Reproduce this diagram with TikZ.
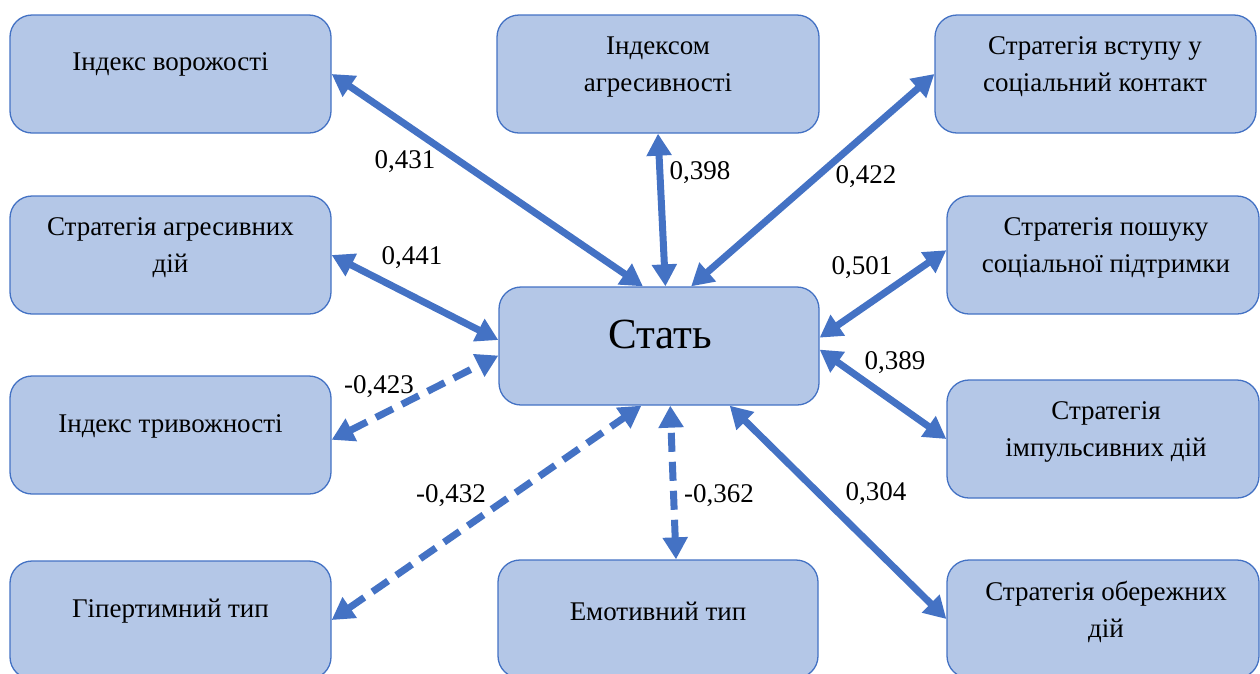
\documentclass[tikz,border=0pt]{standalone}
\usepackage{fontspec}
\setmainfont{Liberation Serif}
\usetikzlibrary{arrows.meta,calc}
\definecolor{boxfill}{HTML}{B4C7E7}
\definecolor{boxline}{HTML}{4472C4}
\definecolor{arrcol}{HTML}{4472C4}
\begin{document}
\begin{tikzpicture}[x=1pt,y=-1pt,
  box/.style={rectangle, draw=boxline, line width=1.3pt, fill=boxfill, rounded corners=22pt, inner sep=0pt, minimum height=118pt},
  txt/.style={font=\fontsize{27}{37}\selectfont, align=center, inner sep=0pt, text=black},
  lab/.style={font=\fontsize{27}{32}\selectfont, inner sep=0pt, text=black},
  link/.style={draw=arrcol, line width=7pt, {Triangle[length=22pt,width=24pt]}-{Triangle[length=22pt,width=24pt]}},
  neg/.style={link, dash pattern=on 19pt off 10pt}]
\useasboundingbox (0,0) rectangle (1260,673);
\clip (0,0) rectangle (1260,673);
% boxes
\node[box, minimum width=321pt] (L1) at (170.5,74) {};
\node[box, minimum width=321pt] (L2) at (170.5,255) {};
\node[box, minimum width=321pt] (L3) at (170.5,435) {};
\node[box, minimum width=321pt] (L4) at (170.5,620) {};
\node[box, minimum width=322pt] (M1) at (658,74) {};
\node[box, minimum width=320pt] (S) at (659,346) {};
\node[box, minimum width=320pt] (M3) at (658,619) {};
\node[box, minimum width=321pt] (R1) at (1095.5,74) {};
\node[box, minimum width=312pt] (R2) at (1103,255) {};
\node[box, minimum width=312pt] (R3) at (1103,439) {};
\node[box, minimum width=312pt] (R4) at (1103,619) {};
% texts
\node[txt] (tL1) at (170.5,64) {Індекс ворожості};
\node[txt] (tL2) at (170.5,248) {Стратегія агресивних\\дій};
\node[txt] (tL3) at (170.5,426) {Індекс тривожності};
\node[txt] (tL4) at (170.5,611) {Гіпертимний тип};
\node[txt] (tM1) at (658,67) {Індексом\\агресивності};
\node[font=\fontsize{43}{50}\selectfont, inner sep=0pt, text=black] (tS) at (660,334) {Стать};
\node[txt] (tM3) at (658,611) {Емотивний тип};
\node[txt] (tR1) at (1095,67) {Стратегія вступу у\\соціальний контакт};
\node[txt] (tR2) at (1106,248) {Стратегія пошуку\\соціальної підтримки};
\node[txt] (tR3) at (1106,432) {Стратегія\\імпульсивних дій};
\node[txt] (tR4) at (1106,612) {Стратегія обережних\\дій};
% connectors
\draw[link] (L1.east) -- ($(S.north west)!0.45!(S.north east)$);
\draw[link] (M1.south) -- ($(S.north west)!0.52!(S.north east)$);
\draw[link] (R1.west) -- ($(S.north west)!0.60!(S.north east)$);
\draw[link] (L2.east) -- ($(S.north west)!0.45!(S.south west)$);
\draw[neg] ($(L3.north east)!0.54!(L3.south east)$) -- ($(S.north west)!0.58!(S.south west)$);
\draw[neg] (L4.east) -- ($(S.south west)!0.445!(S.south east)$);
\draw[neg] ($(M3.north west)!0.556!(M3.north east)$) -- ($(S.south west)!0.535!(S.south east)$);
\draw[link] ($(R2.north west)!0.46!(R2.south west)$) -- ($(S.north east)!0.43!(S.south east)$);
\draw[link] ($(S.north east)!0.53!(S.south east)$) -- (R3.west);
\draw[link] ($(S.south west)!0.72!(S.south east)$) -- (R4.west);
% labels
\node[lab] (a) at (405,162) {0,431};
\node[lab] (b) at (700,173) {0,398};
\node[lab] (c) at (866,177) {0,422};
\node[lab] (d) at (412,258) {0,441};
\node[lab] (e) at (862,268) {0,501};
\node[lab] (f) at (895,363) {0,389};
\node[lab] (g) at (379,387) {-0,423};
\node[lab] (h) at (451,496) {-0,432};
\node[lab] (i) at (719,496) {-0,362};
\node[lab] (j) at (876,494) {0,304};
\end{tikzpicture}
\end{document}
